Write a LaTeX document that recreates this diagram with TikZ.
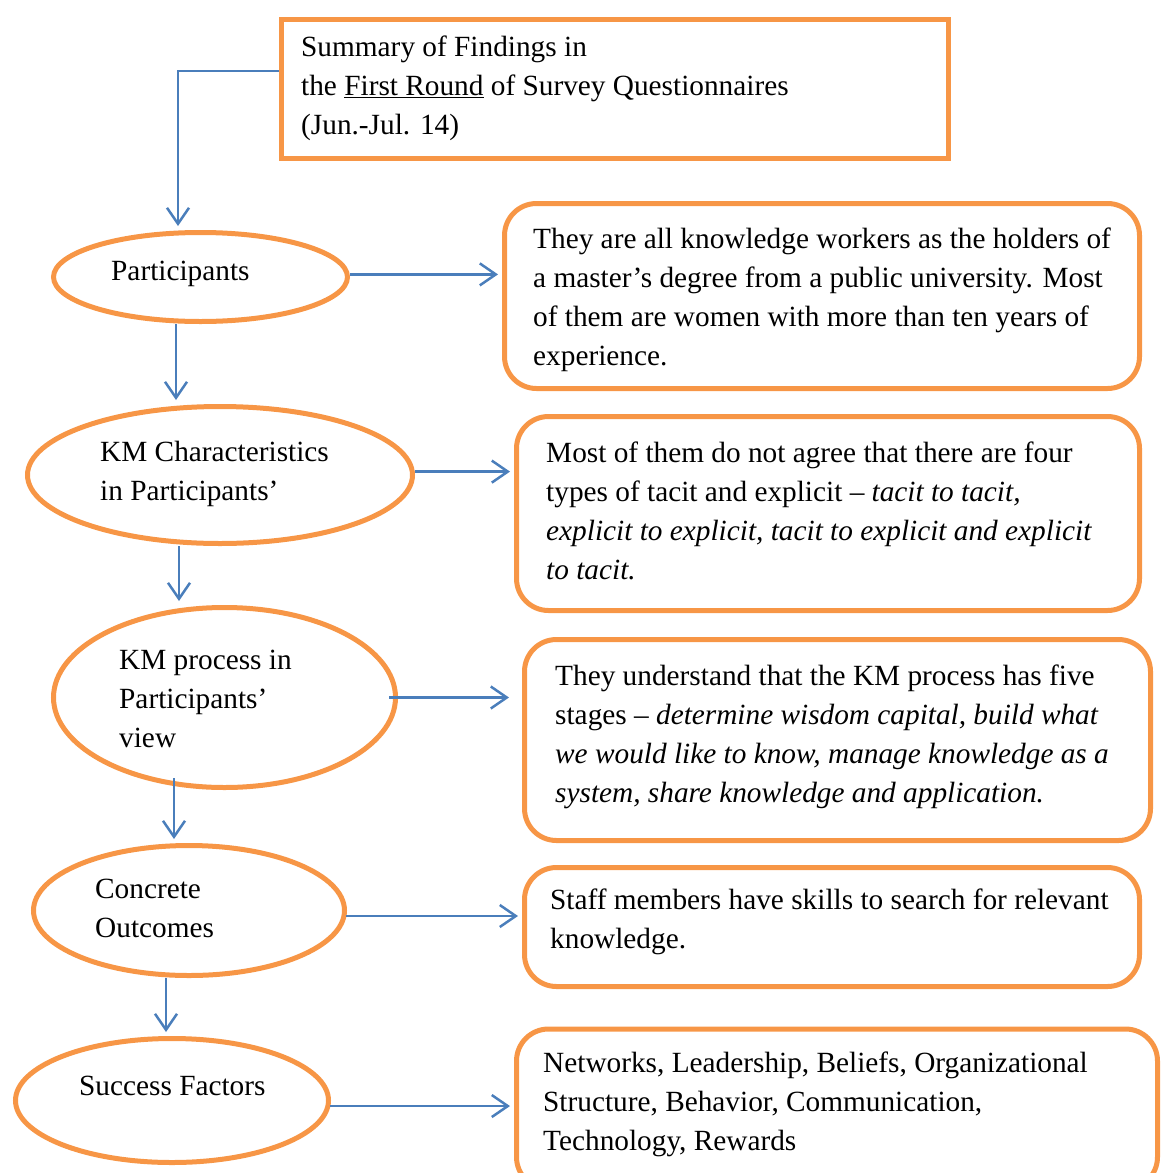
\documentclass[tikz,border=0pt]{standalone}
\usepackage{fontspec}
\setmainfont{Liberation Serif}
\usetikzlibrary{shapes.geometric,arrows.meta}

\definecolor{kmorange}{HTML}{F79646}
\definecolor{kmblue}{HTML}{4A7EBB}

\tikzset{
  topic/.style={ellipse,draw=kmorange,line width=5pt,inner sep=0pt},
  findbox/.style={rectangle,draw=kmorange,line width=5pt,rounded corners=32pt,inner sep=0pt},
  headbox/.style={rectangle,draw=kmorange,line width=5pt,inner sep=0pt},
  % text blocks are placed by the baseline of their last line
  txt/.style={anchor=base west,inner sep=0pt,align=left,
    font=\fontsize{29.3}{38.7}\selectfont},
  arr/.style={draw=kmblue,line width=2.5pt,shorten >=4pt,
    -{Straight Barb[length=16pt,width=22pt,line width=2.5pt]}},
}

\begin{document}
\begin{tikzpicture}[x=1pt,y=-1pt]
\useasboundingbox (0,0) rectangle (1162,1173);

% heading box
\node[headbox,minimum width=667pt,minimum height=139pt] (top) at (615,89) {};
\node[txt] (ttop) at (301,134) {Summary of Findings in\\the \underline{First Round} of Survey Questionnaires\\(Jun.-Jul. 14)};

% topics on the left
\node[topic,minimum width=294pt,minimum height=89pt] (e1) at (200.5,277) {};
\node[txt] (te1) at (111,280) {Participants};

\node[topic,minimum width=385pt,minimum height=137pt] (e2) at (220,475) {};
\node[txt] (te2) at (100,500) {KM Characteristics\\in Participants’};

\node[topic,minimum width=342pt,minimum height=180pt] (e3) at (224.5,697.5) {};
\node[txt] (te3) at (119,747) {KM process in\\Participants’\\view};

\node[topic,minimum width=311pt,minimum height=130pt] (e4) at (189,910.5) {};
\node[txt] (te4) at (95,937) {Concrete\\Outcomes};

\node[topic,minimum width=313pt,minimum height=124pt] (e5) at (172,1100.5) {};
\node[txt] (te5) at (79,1095) {Success Factors};

% findings on the right
\node[findbox,minimum width=635pt,minimum height=185pt] (b1) at (822,296) {};
\node[txt] (tb1) at (533,365) {They are all knowledge workers as the holders of\\a master’s degree from a public university. Most\\of them are women with more than ten years of\\experience.};

\node[findbox,minimum width=623pt,minimum height=194pt] (b2) at (828,513.5) {};
\node[txt] (tb2) at (546,579) {Most of them do not agree that there are four\\types of tacit and explicit – \textit{tacit to tacit,}\\\textit{explicit to explicit, tacit to explicit and explicit}\\\textit{to tacit.}};

\node[findbox,minimum width=626pt,minimum height=201pt] (b3) at (837.5,740) {};
\node[txt] (tb3) at (555,802) {They understand that the KM process has five\\stages – \textit{determine wisdom capital, build what}\\\textit{we would like to know, manage knowledge as a}\\\textit{system, share knowledge and application.}};

\node[findbox,minimum width=615pt,minimum height=119pt] (b4) at (832,927) {};
\node[txt] (tb4) at (550,948) {Staff members have skills to search for relevant\\knowledge.};

\node[findbox,minimum width=641pt,minimum height=160pt] (b5) at (837,1109) {};
\node[txt] (tb5) at (543,1150) {Networks, Leadership, Beliefs, Organizational\\Structure, Behavior, Communication,\\Technology, Rewards};

% connectors
\coordinate (c0) at (178,71);
\coordinate (v1) at (176,0);
\coordinate (v2) at (179,0);
\coordinate (v3) at (174,0);
\coordinate (v4) at (166,0);

\draw[arr] ([yshift=18pt]top.west) -- (c0) -- (c0 |- e1.north);
\draw[arr] (e1.south -| v1) -- (e2.north -| v1);
\draw[arr] (e2.south -| v2) -- (e3.north -| v2);
\draw[arr] ([yshift=12pt]e3.south -| v3) -- (e4.north -| v3);
\draw[arr] (e4.south -| v4) -- (e5.north -| v4);

\draw[arr] (e1.1.6) -- (e1.1.6 -| b1.west);
\draw[arr] (e2.1.8) -- (e2.1.8 -| b2.west);
\draw[arr] ([xshift=-9pt]e3.east) -- ([xshift=-9pt]e3.east -| b3.west);
\draw[arr] (e4.-2.4) -- (e4.-2.4 -| b4.west);
\draw[arr] (e5.-2.4) -- (e5.-2.4 -| b5.west);
\end{tikzpicture}
\end{document}
